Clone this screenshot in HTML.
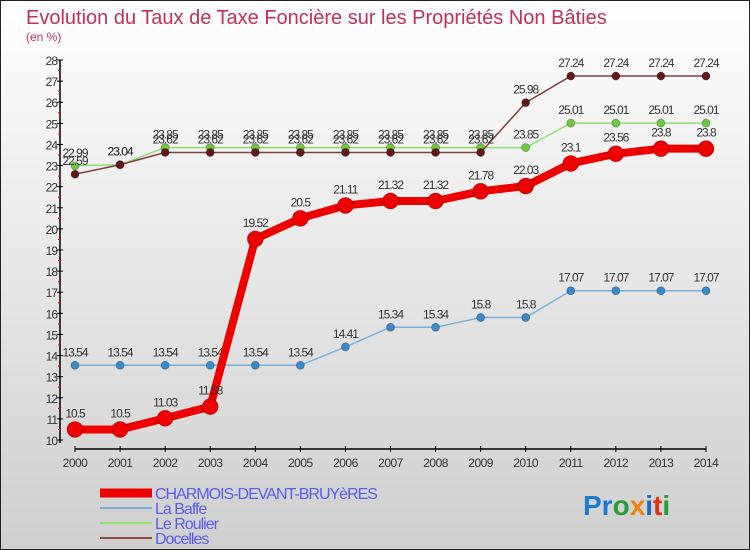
<!DOCTYPE html>
<html><head><meta charset="utf-8"><style>
body{margin:0}
#wrap{position:relative;width:750px;height:550px;overflow:hidden;font-family:"Liberation Sans",sans-serif}
</style></head><body>
<div id="wrap">
<svg id="chart" width="750" height="550" xmlns="http://www.w3.org/2000/svg">
<defs><linearGradient id="bg" x1="0" y1="0" x2="0" y2="1"><stop offset="0" stop-color="#ffffff"/><stop offset="1" stop-color="#cfcfcf"/></linearGradient></defs>
<rect x="0.5" y="0.5" width="749" height="549" fill="url(#bg)" stroke="#222"/>
<text x="26" y="24" font-size="20" fill="#c0305a">Evolution du Taux de Taxe Foncière sur les Propriétés Non Bâties</text>
<text x="26" y="41" font-size="12" fill="#c0306a">(en %)</text>
<g id="axes"></g>
<g id="series"></g>
<g id="legend"></g>
<text x="583" y="515" font-size="28" font-weight="bold"><tspan fill="#1a7ad0">Pr</tspan><tspan fill="#2a9a3a">o</tspan><tspan fill="#f08010">x</tspan><tspan fill="#1a6ac0">i</tspan><tspan fill="#e03010">t</tspan><tspan fill="#2a9a3a">i</tspan></text>
</svg>
</div>
<script>
const years=[2000,2001,2002,2003,2004,2005,2006,2007,2008,2009,2010,2011,2012,2013,2014];
const yTicks=[10,11,12,13,14,15,16,17,18,19,20,21,22,23,24,25,26,27,28];
const charmois=[10.5,10.5,11.03,11.58,19.52,20.5,21.11,21.32,21.32,21.78,22.03,23.1,23.56,23.8,23.8];
const laBaffe=[13.54,13.54,13.54,13.54,13.54,13.54,14.41,15.34,15.34,15.8,15.8,17.07,17.07,17.07,17.07];
const leRoulier=[22.99,23.04,23.85,23.85,23.85,23.85,23.85,23.85,23.85,23.85,23.85,25.01,25.01,25.01,25.01];
const docelles=[22.59,23.04,23.62,23.62,23.62,23.62,23.62,23.62,23.62,23.62,25.98,27.24,27.24,27.24,27.24];
const seriesNames=["CHARMOIS-DEVANT-BRUYèRES","La Baffe","Le Roulier","Docelles"];

const NS="http://www.w3.org/2000/svg";
function xs(i){return 75+i*(706-75)/(years.length-1);}
function ys(v){return 440-(v-10)*(440-60)/18;}
function mk(tag,attrs,parent){const e=document.createElementNS(NS,tag);for(const k in attrs)e.setAttribute(k,attrs[k]);parent.appendChild(e);return e;}
const axes=document.getElementById('axes');
const yAxis=mk('line',{x1:60,y1:60,x2:60,y2:443,stroke:'#000','stroke-width':1.5},axes);


const xAxis=mk('line',{x1:75,y1:449,x2:706,y2:449,stroke:'#000','stroke-width':1.5},axes);


yTicks.forEach(v=>{
  const y=ys(v);
  mk('line',{x1:57,y1:y,x2:63,y2:y,stroke:'#000'},axes);
  if(v<28) mk('line',{x1:58,y1:ys(v+0.5),x2:61,y2:ys(v+0.5),stroke:'#e00'},axes);
  const t=mk('text',{x:57,y:y+5,'font-size':12,'text-anchor':'end',fill:'#333','letter-spacing':'-1'},axes);
  t.textContent=v;
  
  
});
years.forEach((yr,i)=>{
  const x=xs(i);
  mk('line',{x1:x,y1:446,x2:x,y2:452,stroke:'#000'},axes);
  const t=mk('text',{x:x,y:467,'font-size':12,'text-anchor':'middle',fill:'#333','letter-spacing':'-0.5'},axes);
  t.textContent=yr;
  
  
});
const sg=document.getElementById('series');
function drawSeries(vals,color,width,r,ptColor,name,labelOff){
  const g=mk('g',{},sg);
  
  
  mk('polyline',{points:vals.map((v,i)=>xs(i)+','+ys(v)).join(' '),fill:'none',stroke:color,'stroke-width':width,'stroke-linejoin':'round'},g);
  vals.forEach((v,i)=>{
    const c=mk('circle',{cx:xs(i),cy:ys(v),r:r,fill:ptColor,stroke:'rgba(0,0,0,0.25)'},g);
    
    
    const t=mk('text',{x:xs(i),y:ys(v)-labelOff,'font-size':12,'text-anchor':'middle',fill:'#333','letter-spacing':'-1'},g);
    t.textContent=v;
    
    
  });
}
drawSeries(laBaffe,'#7ab0d8',1.5,4,'#3a8ac8','series-la-baffe',9);
drawSeries(leRoulier,'#90e070',1.5,4,'#70c840','series-le-roulier',9);
drawSeries(docelles,'#804040',1.5,4,'#601818','series-docelles',9);
drawSeries(charmois,'#ee0000',8,8,'#ee0000','series-charmois',12);
const lg=document.getElementById('legend');
const lcol=['#ee0000','#7ab0d8','#90e070','#904848'];
const lw=[9,2,2,2];
seriesNames.forEach((n,i)=>{
  const y=493+i*15;
  const g=mk('g',{},lg);
  
  
  mk('line',{x1:100,y1:y,x2:152,y2:y,stroke:lcol[i],'stroke-width':lw[i]},g);
  const t=mk('text',{x:155,y:y+6,'font-size':16,fill:'#5a5aee','letter-spacing':'-1'},g);
  t.textContent=n;
});
</script>
</body></html>
